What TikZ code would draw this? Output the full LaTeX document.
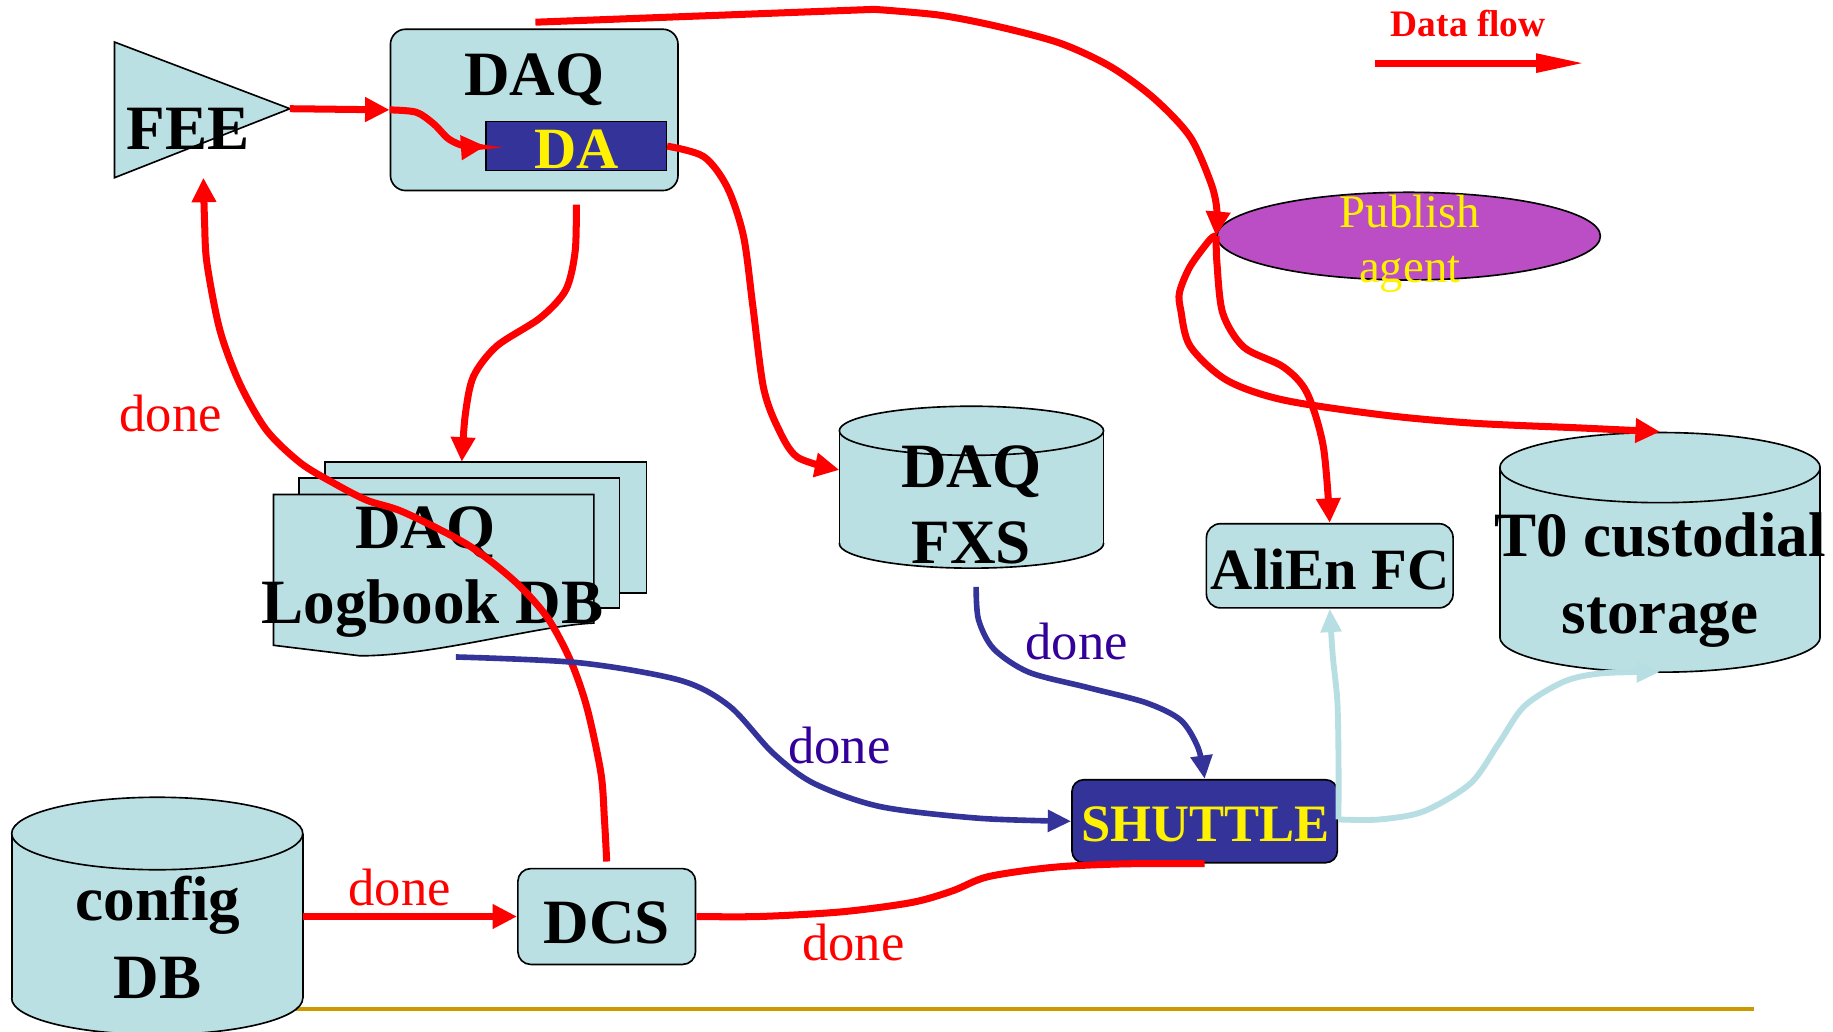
\documentclass[tikz,border=0pt]{standalone}
\usepackage{fontspec}
\setmainfont{Liberation Serif}
\usetikzlibrary{arrows.meta,shapes.geometric}

\definecolor{cellfill}{RGB}{187,224,227}
\definecolor{navy}{RGB}{51,51,153}
\definecolor{agentfill}{RGB}{187,78,196}
\definecolor{rulegold}{RGB}{204,153,0}
\definecolor{doneblue}{RGB}{51,0,153}
\definecolor{cyanflow}{RGB}{183,222,226}

% database drum: centre x, top-ellipse centre y, bottom-ellipse centre y, x radius, y radius
\newcommand\dbcylinder[5]{%
  \fill[cellfill] ({#1-#4},#2) rectangle ({#1+#4},#3);
  \fill[cellfill] (#1,#3) ellipse[x radius=#4, y radius=#5];
  \draw[outline] ({#1-#4},#2) -- ({#1-#4},#3);
  \draw[outline] ({#1+#4},#2) -- ({#1+#4},#3);
  \begin{scope}
    \clip ({#1-#4-3},#3) rectangle ({#1+#4+3},{#3+#5+3});
    \draw[outline] (#1,#3) ellipse[x radius=#4, y radius=#5];
  \end{scope}
  \draw[outline, fill=cellfill] (#1,#2) ellipse[x radius=#4, y radius=#5];
}

\begin{document}
\begin{tikzpicture}[x=1pt,y=-1pt,
  outline/.style={draw=black, line width=1.4pt},
  box/.style={outline, fill=cellfill, rounded corners=13pt, inner sep=0pt},
  navybox/.style={outline, fill=navy, inner sep=0pt},
  bigbold/.style={font=\fontsize{54}{60}\selectfont\bfseries, inner sep=0pt, anchor=base},
  donetxt/.style={font=\fontsize{45}{50}\selectfont, inner sep=0pt, anchor=base},
  agenttxt/.style={font=\fontsize{40}{46}\selectfont, text=yellow, inner sep=0pt, anchor=base},
  anchorbox/.style={inner sep=0pt},
  redflow/.style={draw=red, line width=6pt, -{Triangle[length=21pt,width=20pt]}},
  redline/.style={draw=red, line width=6pt},
  blueflow/.style={draw=navy, line width=4.8pt, -{Triangle[length=20pt,width=18pt]}},
  cyanarrow/.style={draw=cyanflow, line width=5pt, -{Triangle[length=20pt,width=17pt]}},
]
\useasboundingbox (0,0) rectangle (1568,882);
\fill[white] (0,0) rectangle (1568,882);

% horizontal rule at the foot
\draw[rulegold, line width=3pt] (250,863) -- (1500,863);

% front-end electronics
\draw[outline, fill=cellfill] (98,36) -- (248,93) -- (98,152) -- cycle;
\coordinate (feetip) at (248,93);
\coordinate (feebase) at (174,152);
\node[bigbold] (fee) at (161,128) {FEE};

% DAQ with its detector algorithm
\node[box, minimum width=246pt, minimum height=138pt] (daq) at (457,94) {};
\node[bigbold] (daqname) at (457,82) {DAQ};
\node[navybox, minimum width=154pt, minimum height=42pt] (da) at (493,125) {};
\node[bigbold, text=yellow, font=\fontsize{50}{56}\selectfont\bfseries] (daname) at (493,144) {DA};

% logbook pages
\node[outline, fill=cellfill, minimum width=275pt, minimum height=112pt, inner sep=0pt] (lbback) at (415.5,451) {};
\node[outline, fill=cellfill, minimum width=274pt, minimum height=111pt, inner sep=0pt] (lbmid) at (393,464.5) {};
\draw[outline, fill=cellfill] (234,423) -- (508,423) -- (508,533)
  .. controls (460,535) and (372,561) .. (308,561) -- (234,552) -- cycle;
\node[bigbold] (lbname1) at (364,469) {DAQ};
\node[bigbold] (lbname2) at (370,533) {Logbook DB};

% file exchange server
\dbcylinder{831}{368.5}{465}{113}{21}
\node[anchorbox, minimum width=226pt, minimum height=139pt] (fxs) at (831,416) {};
\node[bigbold] (fxsname1) at (831,417) {DAQ};
\node[bigbold] (fxsname2) at (831,482) {FXS};

% publish agent
\node[ellipse, outline, fill=agentfill, minimum width=328pt, minimum height=75pt, inner sep=0pt] (pub) at (1205,202) {};
\node[agenttxt] (pubname1) at (1206,195) {Publish};
\node[agenttxt] (pubname2) at (1206,242) {agent};

% file catalogue
\node[box, minimum width=211pt, minimum height=72pt, rounded corners=12pt] (alien) at (1137.5,484) {};
\node[bigbold, font=\fontsize{50}{56}\selectfont\bfseries] (alienname) at (1138,504) {AliEn FC};

% custodial storage
\dbcylinder{1420}{400}{545}{137}{30}
\node[anchorbox, minimum width=274pt, minimum height=205pt] (tzero) at (1420,472) {};
\node[bigbold] (tzname1) at (1420,476) {T0 custodial};
\node[bigbold] (tzname2) at (1420,542) {storage};

% shuttle
\node[navybox, rounded corners=10pt, minimum width=227pt, minimum height=71pt] (shuttle) at (1030.5,702.5) {};
\node[bigbold, text=yellow, font=\fontsize{45}{50}\selectfont\bfseries] (shuttlename) at (1031,720) {SHUTTLE};

% configuration database
\dbcylinder{134.5}{713}{854}{124.5}{31}
\node[anchorbox, minimum width=249pt, minimum height=200pt] (config) at (134.5,782) {};
\node[bigbold] (configname1) at (135,787) {config};
\node[bigbold] (configname2) at (135,854) {DB};

% detector control system
\node[box, minimum width=152pt, minimum height=82pt, rounded corners=11pt] (dcs) at (519,784) {};
\node[bigbold] (dcsname) at (519,807) {DCS};

% legend
\node[font=\fontsize{32}{36}\selectfont\bfseries, text=red, inner sep=0pt, anchor=base] (dflabel) at (1256,31) {Data flow};
\coordinate (dfa) at (1176,54);
\coordinate (dfb) at (1356,54);
\draw[red, line width=6pt, -{Triangle[length=42pt,width=15pt]}] (dfa) -- (dfb);

% free ends of connectors
\coordinate (daqout) at (493,175);
\coordinate (lbin) at (395,395);
\coordinate (fxsin) at (718,402);
\coordinate (topstart) at (458,19);
\coordinate (dcsout) at (519,737);
\coordinate (lbout) at (390,562);
\coordinate (fxsout) at (835,502);
\coordinate (shutout) at (1145,701);

% red data flow
\draw[redflow] (feetip) -- (daq.west);
\draw[redflow] plot[smooth] coordinates {(daq.west) (356,96) (371,106) (384,119) (398,125) (da.west)};
\draw[redflow] plot[smooth] coordinates {(da.east) (602,134) (622,160) (636,202) (644,262) (653,331) (665,365) (682,391) (fxsin)};
\draw[redflow] plot[smooth] coordinates {(daqout) (492,215) (484,248) (462,272) (425,296) (405,322) (398,355) (lbin)};
\draw[redflow] (topstart) -- plot[smooth] coordinates {(748,8) (804,13) (855,23) (907,37) (950,57) (987,84) (1018,117) (1036,157) (1041,180) (pub.west)};
\draw[redflow] plot[smooth] coordinates {(pub.west) (1035,205) (1018,228) (1009,250) (1010,265) (1018,296) (1049,325) (1097,342) (1183,355) (1260,362) (1350,366) (tzero.north)};
\draw[redflow] plot[smooth] coordinates {(pub.west) (1041,225) (1046,268) (1064,297) (1098,314) (1118,336) (1132,382) (alien.north)};
\draw[redflow] plot[smooth] coordinates {(dcsout) (517,700) (514,661) (502,605) (488,565) (468,528) (440,497) (400,466) (345,438) (314,428) (285,413) (257,396) (228,368) (205,328) (188,282) (177,225) (175,190) (feebase)};
\draw[redflow] (config.east |- dcs.west) -- (dcs.west);
\draw[redline] plot[smooth] coordinates {(dcs.east) (650,784) (720,780) (780,772) (815,762) (845,750) (900,742) (960,739) (shuttle.south)};

% blue notifications
\draw[blueflow] plot[smooth] coordinates {(lbout) (496,567) (582,582) (624,604) (661,644) (696,670) (753,690) (838,700) (shuttle.west)};
\draw[blueflow] plot[smooth] coordinates {(fxsout) (837,530) (850,555) (880,575) (930,588) (980,601) (1010,616) (1025,640) (shuttle.north)};

% shuttle outputs
\draw[cyanarrow] plot[smooth] coordinates {(shutout) (1145,650) (1144,600) (1140,560) (alien.south)};
\draw[cyanarrow] plot[smooth] coordinates {(shutout) (1180,701) (1218,694) (1258,670) (1282,636) (1304,604) (1338,583) (1370,576) (tzero.south)};

% "done" labels
\node[donetxt, text=red] (done1) at (146,369) {done};
\node[donetxt, text=red] (done2) at (342,775) {done};
\node[donetxt, text=red] (done3) at (730,822) {done};
\node[donetxt, text=doneblue] (done4) at (921,564) {done};
\node[donetxt, text=doneblue] (done5) at (718,653) {done};
\end{tikzpicture}
\end{document}
